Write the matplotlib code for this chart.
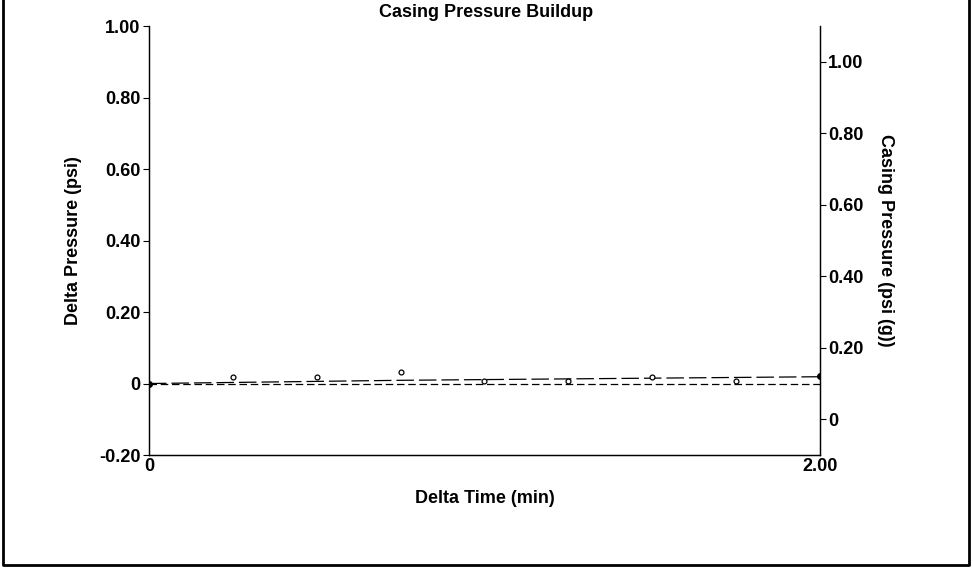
import matplotlib
matplotlib.use("Agg")
import matplotlib.pyplot as plt
from matplotlib.lines import Line2D
from matplotlib.ticker import FixedLocator, FixedFormatter

plt.rcParams["font.family"] = ["Liberation Sans", "DejaVu Sans"]
plt.rcParams["font.weight"] = "bold"

# data
time_min = [0, 0.25, 0.5, 0.75, 1.0, 1.25, 1.5, 1.75, 2.0]
delta_pts = [0, 0.017, 0.017, 0.031, 0.008, 0.006, 0.017, 0.008, 0.020]
delta_trend = [0, 0.003, 0.006, 0.009, 0.011, 0.013, 0.015, 0.017, 0.019]
casing_psi = [0.10, 0.10, 0.10, 0.10, 0.10, 0.10, 0.10, 0.10, 0.10]

left_ticks = [-0.2, 0, 0.2, 0.4, 0.6, 0.8, 1.0]
left_labels = ["-0.20", "0", "0.20", "0.40", "0.60", "0.80", "1.00"]
right_ticks = [0, 0.2, 0.4, 0.6, 0.8, 1.0]
right_labels = ["0", "0.20", "0.40", "0.60", "0.80", "1.00"]

fig = plt.figure(figsize=(9.73, 5.72), dpi=100)
ax = fig.add_axes([0.1531, 0.2045, 0.6896, 0.75])
ax2 = ax.twinx()

# delta pressure: trend line + sample points
ax.plot(time_min, delta_trend, color="black", lw=0.9, dashes=(14, 4))
ax.plot(time_min[1:-1], delta_pts[1:-1], "o", ms=3.5, mfc="white", mec="black", mew=0.9)
ax.plot([time_min[0], time_min[-1]], [delta_pts[0], delta_pts[-1]], "o", ms=4, color="black")

# casing pressure on right axis
ax2.plot(time_min, casing_psi, color="black", lw=0.9, dashes=(6, 3))

ax.set_xlim(0, 2.0)
ax.set_ylim(-0.2, 1.0)
ax2.set_ylim(-0.1, 1.1)

ax.xaxis.set_major_locator(FixedLocator([0, 2.0]))
ax.xaxis.set_major_formatter(FixedFormatter(["0", "2.00"]))
ax.tick_params(axis="x", length=0, pad=2, labelsize=13)
ax.yaxis.set_major_locator(FixedLocator(left_ticks))
ax.yaxis.set_major_formatter(FixedFormatter(left_labels))
ax.tick_params(axis="y", length=4, width=0.8, pad=2, labelsize=13)
ax2.yaxis.set_major_locator(FixedLocator(right_ticks))
ax2.yaxis.set_major_formatter(FixedFormatter(right_labels))
ax2.tick_params(axis="y", length=4, width=0.8, pad=2, labelsize=13)

for a in (ax, ax2):
    a.spines["top"].set_visible(False)
    for s in a.spines.values():
        s.set_linewidth(0.9)

ax.set_ylabel("Delta Pressure (psi)", fontsize=13, fontweight="bold", labelpad=12)
ax2.set_ylabel("Casing Pressure (psi (g))", fontsize=13, fontweight="bold", rotation=270, labelpad=22)
ax.set_xlabel("Delta Time (min)", fontsize=13, fontweight="bold", labelpad=11)
fig.text(0.5, 0.978, "Casing Pressure Buildup", ha="center", va="center", fontsize=13, fontweight="bold")

# page frame (left, bottom, right)
fig.add_artist(Line2D([0.003, 0.003, 0.996, 0.996], [1.0, 0.012, 0.012, 1.0],
                      transform=fig.transFigure, color="black", lw=2))

fig.savefig("out.png", dpi=100)
